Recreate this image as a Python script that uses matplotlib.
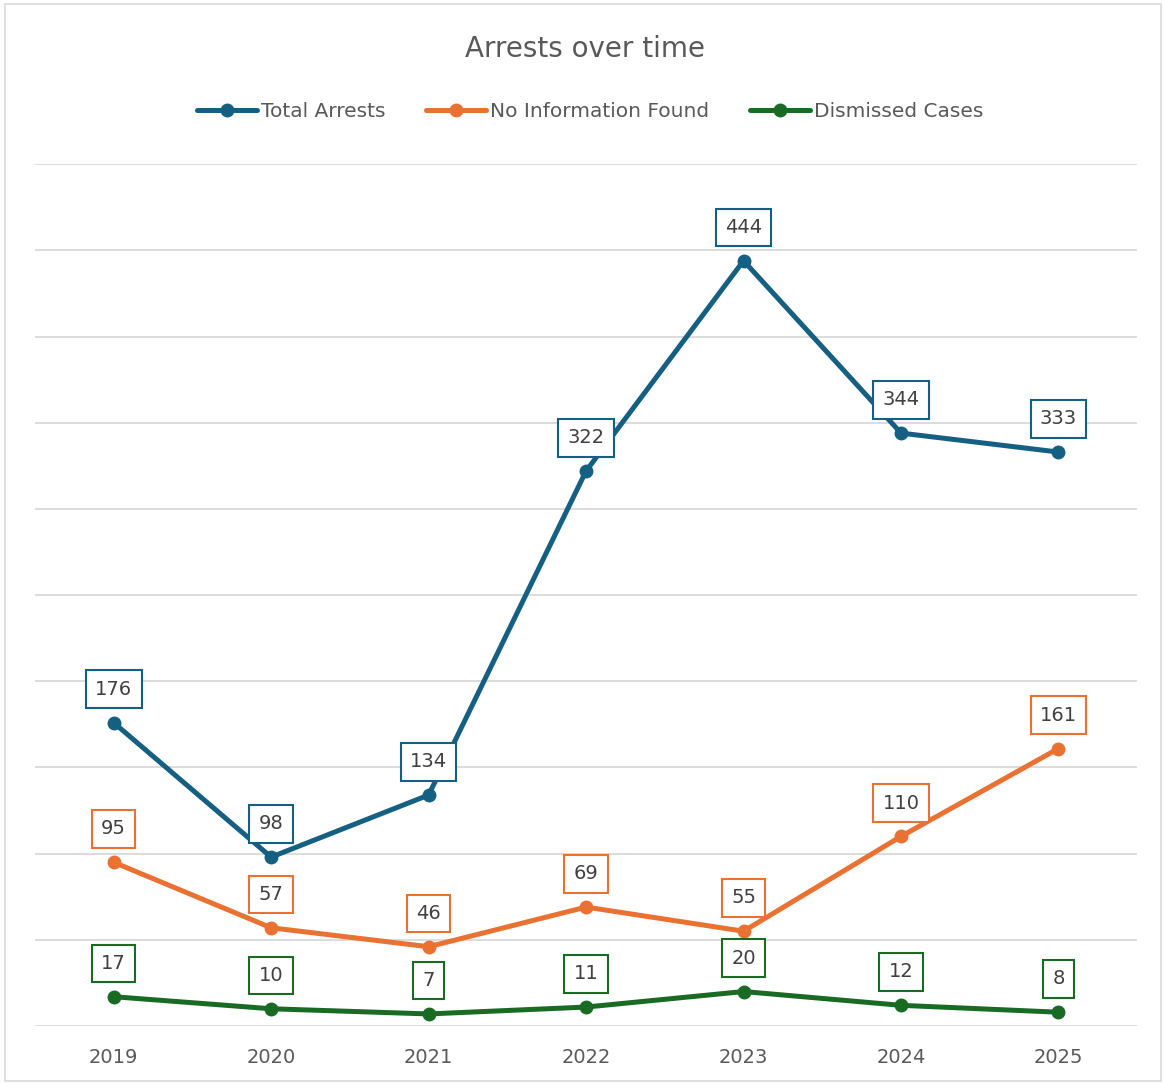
import matplotlib
matplotlib.use("Agg")
import matplotlib.pyplot as plt
from matplotlib.patches import Rectangle

years = ["2019", "2020", "2021", "2022", "2023", "2024", "2025"]
total_arrests = [176, 98, 134, 322, 444, 344, 333]
no_info = [95, 57, 46, 69, 55, 110, 161]
dismissed = [17, 10, 7, 11, 20, 12, 8]

series = [
    ("Total Arrests", total_arrests, "#156082"),
    ("No Information Found", no_info, "#E97132"),
    ("Dismissed Cases", dismissed, "#196B24"),
]

fig = plt.figure(figsize=(11.64, 10.84), dpi=100)
fig.patch.set_facecolor("white")
fig.add_artist(Rectangle((0.004, 0.003), 0.993, 0.993, transform=fig.transFigure,
                         fill=False, edgecolor="#D9D9D9", linewidth=1.2))

ax = fig.add_axes([0.030, 0.0535, 0.947, 0.795])
x = list(range(len(years)))
for name, vals, col in series:
    ax.plot(x, vals, color=col, linewidth=3.6, marker="o", markersize=9,
            label=name, solid_capstyle="round")
    for xi, v in zip(x, vals):
        ax.annotate(str(v), (xi, v), xytext=(0, 24), textcoords="offset points",
                    ha="center", va="center", fontsize=14, color="#404040",
                    bbox=dict(boxstyle="square,pad=0.48", fc="white", ec=col, lw=1.5))

ax.set_xlim(-0.5, 6.5)
ax.set_ylim(0, 500)
ax.set_yticks(range(0, 501, 50))
ax.set_yticklabels([])
ax.tick_params(axis="y", length=0)
ax.set_xticks(x)
ax.set_xticklabels(years, fontsize=14, color="#595959")
ax.tick_params(axis="x", length=0, pad=16)
ax.grid(axis="y", color="#D9D9D9", linewidth=1.3)
ax.set_axisbelow(True)
for s in ax.spines.values():
    s.set_visible(False)

fig.text(0.503, 0.955, "Arrests over time", ha="center", va="center",
         fontsize=20, color="#595959")
leg = fig.legend(loc="center", bbox_to_anchor=(0.507, 0.8975), ncol=3, frameon=False,
                 fontsize=14.5, handlelength=3.0, columnspacing=2.0, handletextpad=0.2,
                 labelcolor="#595959")

fig.savefig("out.png", dpi=100)
